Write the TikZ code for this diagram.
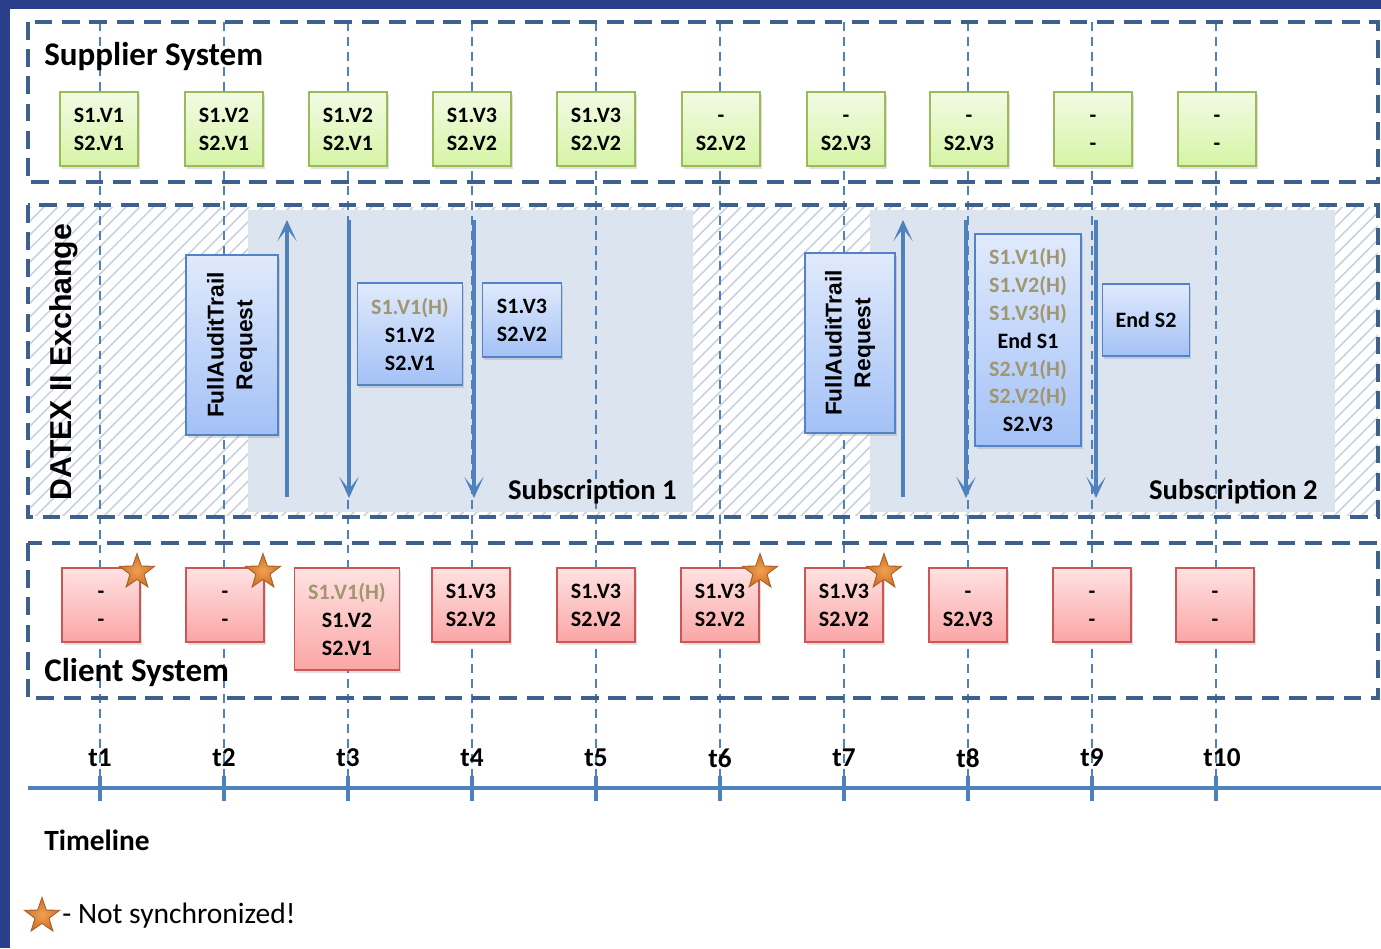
\documentclass[tikz,border=0pt]{standalone}
\usepackage{fontspec}
\setmainfont{Carlito}
\newfontfamily\arialfont{Liberation Sans}
\usepackage{xcolor}
\usepackage{tikz}
\usetikzlibrary{arrows.meta,positioning,shapes.geometric,patterns.meta,shadows}

\definecolor{pageblue}{RGB}{43,62,140}
\definecolor{groupblue}{RGB}{62,96,140}
\definecolor{lineblue}{RGB}{79,129,189}
\definecolor{hatchgray}{RGB}{200,209,224}
\definecolor{subshade}{RGB}{220,228,239}
\definecolor{histtext}{RGB}{160,150,112}
\definecolor{suppborder}{RGB}{155,187,89}
\definecolor{supptop}{RGB}{242,251,228}
\definecolor{suppbottom}{RGB}{214,244,166}
\definecolor{clientborder}{RGB}{204,86,84}
\definecolor{clienttop}{RGB}{255,226,226}
\definecolor{clientbottom}{RGB}{250,166,165}
\definecolor{msgborder}{RGB}{84,130,200}
\definecolor{msgtop}{RGB}{224,234,252}
\definecolor{msgbottom}{RGB}{163,193,246}
\definecolor{starlight}{RGB}{240,160,80}
\definecolor{stardark}{RGB}{205,112,42}
\definecolor{staredge}{RGB}{165,95,40}

\newcommand{\hist}[1]{\textcolor{histtext}{#1}}
\newcommand{\nostate}{\vphantom{S}-}

\begin{document}
\begin{tikzpicture}[x=0.02cm, y=-0.02cm,
    every node/.style={inner sep=0pt},
    groupframe/.style={draw=groupblue, line width=2.3pt, dash pattern=on 10pt off 5.5pt},
    timeguide/.style={draw=lineblue, line width=0.8pt, dash pattern=on 5pt off 3.5pt},
    timeaxis/.style={draw=lineblue, line width=2pt},
    msgflow/.style={draw=lineblue, line width=2pt, -{Stealth[length=12pt,width=11pt,inset=7pt]}},
    statebox/.style={rectangle, line width=1.1pt, align=center, minimum width=1.56cm, minimum height=1.48cm,
        font=\bfseries\fontsize{12.5}{15.9}\selectfont,
        drop shadow={shadow xshift=1pt, shadow yshift=-1.5pt, opacity=0.25}},
    suppbox/.style={statebox, draw=suppborder, top color=supptop, bottom color=suppbottom},
    clientbox/.style={statebox, draw=clientborder, top color=clienttop, bottom color=clientbottom},
    msgbox/.style={statebox, draw=msgborder, top color=msgtop, bottom color=msgbottom},
    notsync/.style={star, star points=5, star point ratio=2.5, minimum size=0.74cm, draw=staredge, line width=0.5pt, inner color=starlight, outer color=stardark},
    grouptitle/.style={anchor=west, font=\bfseries\fontsize{18.8}{22}\selectfont},
    tlabel/.style={font=\bfseries\fontsize{15.5}{18}\selectfont}]
    \useasboundingbox (0,0) rectangle (1381,948);
    \fill[pageblue] (0,0) rectangle (1381,948);
    \fill[white] (10,9) rectangle (1381,948);

    % exchange area: hatching and the two subscriptions
    \fill[pattern={Lines[angle=45,distance=5.5pt,line width=0.9pt]}, pattern color=hatchgray] (30,207) rectangle (1378,515);
    \fill[subshade] (248,210) rectangle (693,512);
    \fill[subshade] (870,210) rectangle (1335,512);

    % time guides
    \draw[timeguide] (100,22) -- (100,788);
    \draw[timeguide] (224,22) -- (224,788);
    \draw[timeguide] (348,22) -- (348,788);
    \draw[timeguide] (472,22) -- (472,788);
    \draw[timeguide] (596,22) -- (596,788);
    \draw[timeguide] (720,22) -- (720,788);
    \draw[timeguide] (844,22) -- (844,788);
    \draw[timeguide] (968,22) -- (968,788);
    \draw[timeguide] (1092,22) -- (1092,788);
    \draw[timeguide] (1216,22) -- (1216,788);

    \draw[groupframe] (28,22) rectangle (1378,182);
    \draw[groupframe] (28,205) rectangle (1378,517);
    \draw[groupframe] (28,543) rectangle (1378,698);

    \node[grouptitle] (supplier) at (44,57) {Supplier System};
    \node[grouptitle] (client) at (44,672) {Client System};
    \node[rotate=90, font=\arialfont\bfseries\fontsize{17.2}{20}\selectfont] (datex) at (64,362) {DATEX II Exchange};
    \node[anchor=east, font=\bfseries\fontsize{16.3}{19}\selectfont] (sub1) at (677,492) {Subscription 1};
    \node[anchor=east, font=\bfseries\fontsize{16.3}{19}\selectfont] (sub2) at (1318,492) {Subscription 2};

    % supplier states
    \node[suppbox] (s1) at (99,129) {S1.V1\\S2.V1};
    \node[suppbox] (s2) at (224,129) {S1.V2\\S2.V1};
    \node[suppbox] (s3) at (348,129) {S1.V2\\S2.V1};
    \node[suppbox] (s4) at (472,129) {S1.V3\\S2.V2};
    \node[suppbox] (s5) at (596,129) {S1.V3\\S2.V2};
    \node[suppbox] (s6) at (721,129) {\nostate\\S2.V2};
    \node[suppbox] (s7) at (846,129) {\nostate\\S2.V3};
    \node[suppbox] (s8) at (969,129) {\nostate\\S2.V3};
    \node[suppbox] (s9) at (1093,129) {\nostate\\\nostate};
    \node[suppbox] (s10) at (1217,129) {\nostate\\\nostate};

    % exchanged messages
    \coordinate (req1a) at (287,497);
    \coordinate (req1b) at (287,220);
    \coordinate (ans1a) at (349,220);
    \coordinate (ans1b) at (349,498);
    \coordinate (ans2a) at (474,220);
    \coordinate (ans2b) at (474,498);
    \coordinate (req2a) at (903,497);
    \coordinate (req2b) at (903,220);
    \coordinate (ans3a) at (966,220);
    \coordinate (ans3b) at (966,498);
    \coordinate (ans4a) at (1096,220);
    \coordinate (ans4b) at (1096,498);
    \draw[msgflow] (req1a) -- (req1b);
    \draw[msgflow] (ans1a) -- (ans1b);
    \draw[msgflow] (ans2a) -- (ans2b);
    \draw[msgflow] (req2a) -- (req2b);
    \draw[msgflow] (ans3a) -- (ans3b);
    \draw[msgflow] (ans4a) -- (ans4b);

    \node[msgbox, minimum width=1.84cm, minimum height=3.6cm] (fat1) at (232,345) {};
    \node[rotate=90, align=center, font=\arialfont\bfseries\fontsize{13}{16.4}\selectfont] (fat1text) at (fat1.center) {FullAuditTrail\\Request};
    \node[msgbox, minimum width=2.1cm, minimum height=2.04cm] (m1) at (410,334) {\hist{S1.V1(H)}\\S1.V2\\S2.V1};
    \node[msgbox, minimum width=1.58cm, minimum height=1.48cm] (m2) at (522,320) {S1.V3\\S2.V2};
    \node[msgbox, minimum width=1.8cm, minimum height=3.6cm] (fat2) at (850,343) {};
    \node[rotate=90, align=center, font=\arialfont\bfseries\fontsize{13}{16.4}\selectfont] (fat2text) at (fat2.center) {FullAuditTrail\\Request};
    \node[msgbox, minimum width=2.12cm, minimum height=4.24cm] (m3) at (1028,340) {\hist{S1.V1(H)}\\\hist{S1.V2(H)}\\\hist{S1.V3(H)}\\End S1\\\hist{S2.V1(H)}\\\hist{S2.V2(H)}\\S2.V3};
    \node[msgbox, minimum width=1.74cm, minimum height=1.44cm] (m4) at (1146,320) {End S2};

    % client states
    \node[clientbox] (c1) at (101,605) {\nostate\\\nostate};
    \node[clientbox] (c2) at (225,605) {\nostate\\\nostate};
    \node[clientbox, minimum width=2.1cm, minimum height=2.04cm] (c3) at (347,619) {\hist{S1.V1(H)}\\S1.V2\\S2.V1};
    \node[clientbox] (c4) at (471,605) {S1.V3\\S2.V2};
    \node[clientbox] (c5) at (596,605) {S1.V3\\S2.V2};
    \node[clientbox] (c6) at (720,605) {S1.V3\\S2.V2};
    \node[clientbox] (c7) at (844,605) {S1.V3\\S2.V2};
    \node[clientbox] (c8) at (968,605) {\nostate\\S2.V3};
    \node[clientbox] (c9) at (1092,605) {\nostate\\\nostate};
    \node[clientbox] (c10) at (1215,605) {\nostate\\\nostate};

    \node[notsync] (star1) at (137,572) {};
    \node[notsync] (star2) at (263,572) {};
    \node[notsync] (star6) at (760,572) {};
    \node[notsync] (star7) at (884,572) {};

    % timeline
    \draw[timeaxis] (28,788) -- (1381,788);
    \draw[timeaxis] (100,776) -- (100,801) (224,776) -- (224,801) (348,776) -- (348,801)
        (472,776) -- (472,801) (596,776) -- (596,801) (720,776) -- (720,801) (844,776) -- (844,801)
        (968,776) -- (968,801) (1092,776) -- (1092,801) (1216,776) -- (1216,801);
    \node[tlabel] (t1) at (100,758) {t1};
    \node[tlabel] (t2) at (224,758) {t2};
    \node[tlabel] (t3) at (348,758) {t3};
    \node[tlabel] (t4) at (472,758) {t4};
    \node[tlabel] (t5) at (596,758) {t5};
    \node[tlabel] (t6) at (720,758) {t6};
    \node[tlabel] (t7) at (844,758) {t7};
    \node[tlabel] (t8) at (968,758) {t8};
    \node[tlabel] (t9) at (1092,758) {t9};
    \node[tlabel] (t10) at (1222,758) {t10};
    \node[anchor=west, font=\bfseries\fontsize{16.7}{20}\selectfont] (timeline) at (44,840) {Timeline};

    % legend
    \node[notsync] (legstar) at (42,916) {};
    \node[anchor=west, font=\fontsize{16.8}{20}\selectfont] (legtext) at (62,916) {- Not synchronized!};
\end{tikzpicture}
\end{document}
